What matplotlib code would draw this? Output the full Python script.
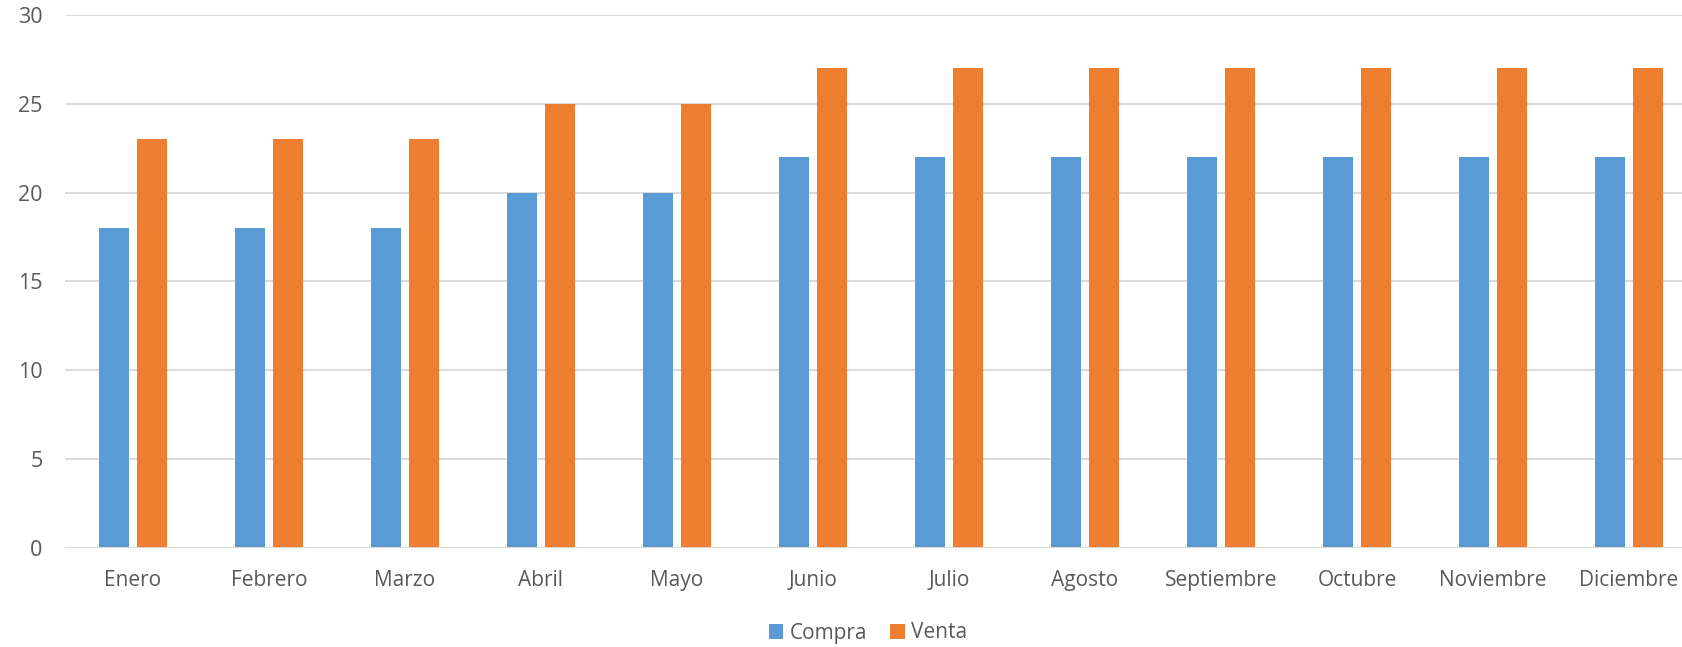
import matplotlib.pyplot as plt
import numpy as np

meses = ['Enero', 'Febrero', 'Marzo', 'Abril', 'Mayo', 'Junio', 'Julio',
         'Agosto', 'Septiembre', 'Octubre', 'Noviembre', 'Diciembre']
compra = [18, 18, 18, 20, 20, 22, 22, 22, 22, 22, 22, 22]
venta = [23, 23, 23, 25, 25, 27, 27, 27, 27, 27, 27, 27]

azul = '#5B9BD5'
naranja = '#ED7D31'
gris_texto = '#595959'
gris_rejilla = '#D9D9D9'

plt.rcParams['font.family'] = ['Open Sans', 'DejaVu Sans']

fig = plt.figure(figsize=(16.83, 6.47), dpi=100)
ax = fig.add_axes([0.0386, 0.153, 0.9697, 0.824])

x = np.arange(len(meses))
ancho = 0.22
sep = 0.139
ax.bar(x - sep, compra, ancho, color=azul, label='Compra', zorder=3)
ax.bar(x + sep, venta, ancho, color=naranja, label='Venta', zorder=3)

ax.set_xlim(-0.5, len(meses) - 0.5)
ax.set_ylim(0, 30)
ax.set_yticks(range(0, 31, 5))
ax.set_xticks(x)
ax.set_xticklabels(meses)

ax.grid(axis='y', color=gris_rejilla, linewidth=1.3, zorder=0)
ax.axhline(0, color=gris_rejilla, linewidth=1.5, zorder=4)
for s in ax.spines.values():
    s.set_visible(False)

ax.tick_params(axis='y', length=0, pad=16, labelsize=15.5, labelcolor=gris_texto)
ax.tick_params(axis='x', length=0, pad=16, labelsize=15, labelcolor=gris_texto)

fig.legend(loc='center', bbox_to_anchor=(868 / 1683, 1 - 633 / 647), ncol=2,
           frameon=False, fontsize=15, labelcolor=gris_texto,
           handlelength=0.7, handleheight=0.7, handletextpad=0.3,
           columnspacing=1.1)

fig.savefig('out.png', dpi=100)
